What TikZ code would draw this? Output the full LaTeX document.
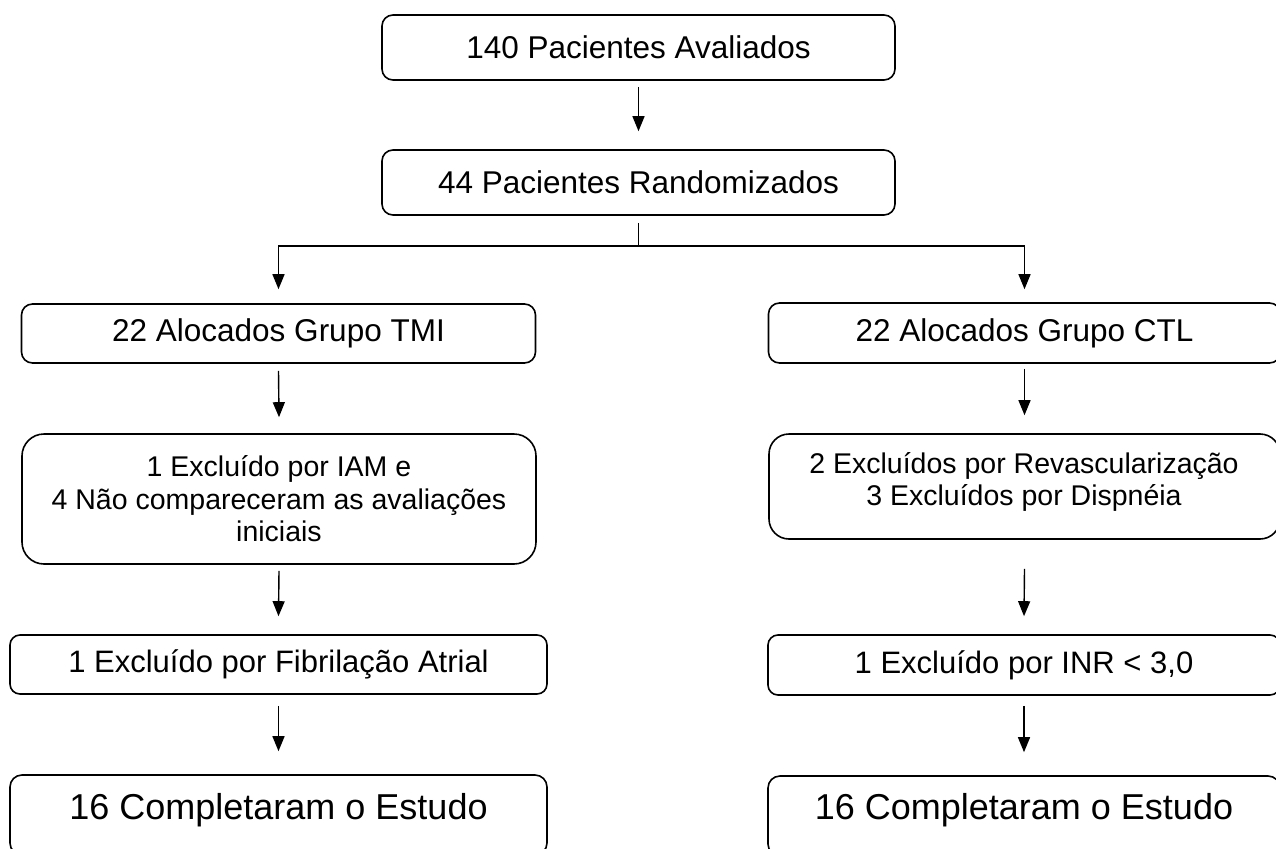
\documentclass[tikz,border=0pt]{standalone}
\usepackage{fontspec}
\setmainfont{Liberation Sans}
\usetikzlibrary{arrows.meta,calc}
\begin{document}
\begin{tikzpicture}[x=1pt,y=-1pt,
  box/.style={draw=black,line width=1.6pt,rounded corners=11pt,inner sep=0pt,align=center},
  big/.style={font=\fontsize{31.5}{38}\selectfont},
  mid/.style={font=\fontsize{28.5}{32.5}\selectfont},
  midb/.style={font=\fontsize{31}{36}\selectfont},
  huge/.style={font=\fontsize{36}{44}\selectfont},
  arr/.style={line width=1.4pt,-{Triangle[length=15pt,width=12pt]}},
  ln/.style={line width=1.4pt}]
\useasboundingbox (0,0) rectangle (1276,848);
\clip (0,0) rectangle (1276,848);
% top
\node[box,big,minimum width=513pt,minimum height=65pt] (b1) at (638.5,47.5) {140 Pacientes Avaliados};
\node[box,big,minimum width=513pt,minimum height=65pt] (b2) at (638.5,182.5) {44 Pacientes Randomizados};
% groups
\node[box,big,minimum width=514pt,minimum height=59pt] (tmi) at (278.5,333.5) {22 Alocados Grupo TMI};
\node[box,big,minimum width=512pt,minimum height=60pt] (ctl) at (1024.5,333) {22 Alocados Grupo CTL};
% exclusions
\node[box,mid,rounded corners=22pt,minimum width=514pt,minimum height=130pt] (e1) at (279,499) {1 Excluído por IAM e\\4 Não compareceram as avaliações\\iniciais};
\node[box,rounded corners=20pt,minimum width=511pt,minimum height=105pt] (e2) at (1024.5,486.5) {};
\node[mid,align=center,inner sep=0pt] (e2t) at (1024,482) {2 Excluídos por Revascularização\\3 Excluídos por Dispnéia};
% second exclusions
\node[box,midb,rounded corners=10pt,minimum width=537pt,minimum height=59pt] (f1) at (278.5,664.5) {1 Excluído por Fibrilação Atrial};
\node[box,midb,rounded corners=10pt,minimum width=512pt,minimum height=60pt] (f2) at (1024,665) {1 Excluído por INR < 3,0};
% completed
\node[box,rounded corners=12pt,minimum width=537pt,minimum height=80pt] (c1) at (278.5,815) {};
\node[huge,inner sep=0pt] (c1t) at (278.5,810) {16 Completaram o Estudo};
\node[box,rounded corners=12pt,minimum width=512pt,minimum height=80pt] (c2) at (1024,816) {};
\node[huge,inner sep=0pt] (c2t) at (1024,810) {16 Completaram o Estudo};
% connectors
\draw[arr] ([yshift=-6pt]b1.south) -- ([yshift=18pt]b2.north);
\coordinate (split) at ($(b2.south)+(0,30)$);
\draw[ln] ([yshift=-7pt]b2.south) -- (split);
\draw[arr] (split) -| ([yshift=14pt]tmi.north);
\draw[arr] (split) -| ([yshift=13pt]ctl.north);
\draw[arr] ([yshift=-7pt]tmi.south) -- ([yshift=16pt]e1.north);
\draw[arr] ([yshift=-5pt]ctl.south) -- ([yshift=18pt]e2.north);
\draw[arr] ([yshift=-6pt]e1.south) -- ([yshift=18pt]f1.north);
\draw[arr] ([yshift=-29pt]e2.south) -- ([yshift=18pt]f2.north);
\draw[arr] ([yshift=-11pt]f1.south) -- ([yshift=23pt]c1.north);
\draw[arr] ([yshift=-10pt]f2.south) -- ([yshift=23pt]c2.north);
\end{tikzpicture}
\end{document}
